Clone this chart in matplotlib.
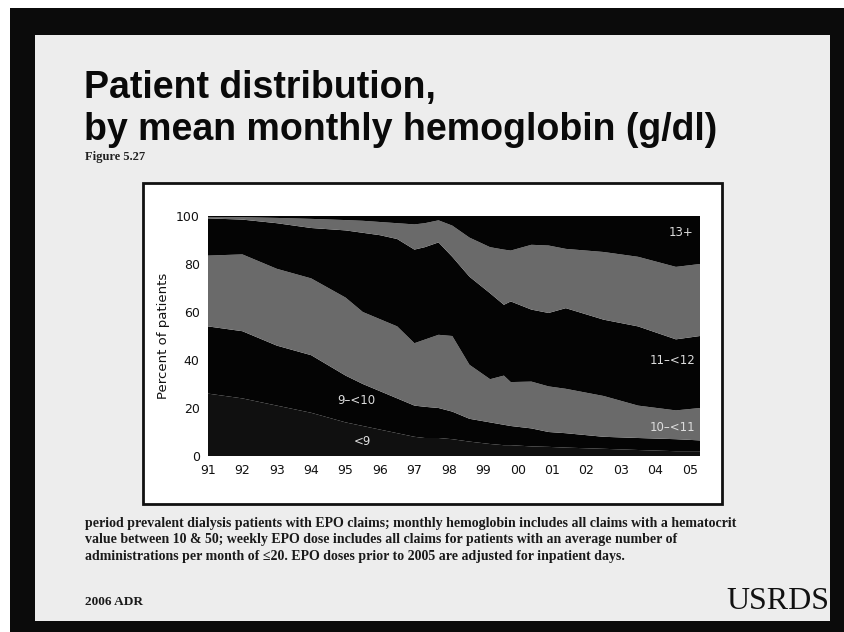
import matplotlib
matplotlib.use('Agg')
import matplotlib.pyplot as plt
from matplotlib.patches import Rectangle

# ── Data (percent of patients per hemoglobin band) ──
years = [1991.0, 1992.0, 1993.0, 1994.0, 1995.0, 1995.5, 1996.0, 1996.5, 1997.0,
         1997.3, 1997.7, 1998.1, 1998.6, 1999.2, 1999.6, 1999.8, 2000.4, 2000.9,
         2001.4, 2002.5, 2003.5, 2004.6, 2005.3]
hb_lt9 = [26, 24, 21, 18, 14, 12.5, 11, 9.5, 8, 7.5, 7.5, 7, 6, 5, 4.5, 4.5, 4,
          3.8, 3.5, 3, 2.5, 2, 2]
hb_9_10 = [28, 28, 25, 24, 19.5, 17.5, 16, 14.5, 13, 13, 12.5, 11.5, 9.5, 9, 8.5,
           8, 7.5, 6.2, 6, 5, 5, 5, 4.5]
hb_10_11 = [29.5, 32, 32, 32, 32.5, 30, 30, 30, 26, 28, 30.5, 31.5, 22.5, 18, 20.5,
            18.3, 19.5, 19, 18.5, 17, 13.5, 12, 13.5]
hb_11_12 = [15.5, 14.5, 19, 21, 28, 33, 35, 36.4, 39, 38.5, 38.5, 33, 36.7, 35.8,
            29.5, 33.6, 30, 30.6, 33.6, 31.8, 33, 29.6, 30]
hb_12_13 = [0.6, 1, 2.2, 3.8, 4.3, 5, 5.5, 6.6, 10.5, 10, 9.2, 13, 16.3, 19.2, 23,
            21.2, 27, 28.1, 24.7, 28.2, 29, 30.2, 30]
hb_13p = [0.4, 0.5, 0.8, 1.2, 1.7, 2, 2.5, 3, 3.5, 3, 1.8, 4, 9, 13, 14, 14.4, 12,
          12.3, 13.7, 15, 17, 21.2, 20]

tick_years = list(range(1991, 2006))
tick_labels = ['91', '92', '93', '94', '95', '96', '97', '98', '99', '00', '01',
               '02', '03', '04', '05']

band_labels = ['13+', '11\u2013<12', '10\u2013<11', '9\u2013<10', '<9']
band_label_x = [2004.75, 2004.5, 2004.5, 1995.3, 1995.5]
band_label_y = [93, 40, 12, 23, 6]

W, H = 844, 632
fig = plt.figure(figsize=(W / 100, H / 100), dpi=100)
fig.patch.set_facecolor('white')

# scanned slide frame
fig.patches.append(Rectangle((10 / W, 0), 1 - 10 / W, 1 - 8 / H,
                             transform=fig.transFigure, facecolor='#0b0b0b',
                             edgecolor='none', zorder=0))
fig.patches.append(Rectangle((35 / W, 11 / H), (830 - 35) / W, (621 - 35) / H,
                             transform=fig.transFigure, facecolor='#ededed',
                             edgecolor='none', zorder=0))
# white chart box
fig.patches.append(Rectangle((143 / W, (H - 504) / H), (722 - 143) / W, (504 - 183) / H,
                             transform=fig.transFigure, facecolor='white',
                             edgecolor='#111111', linewidth=2, zorder=1))

# titles
fig.text(84 / W, 1 - 98 / H, 'Patient distribution,', fontsize=27,
         fontweight='bold', family='Liberation Sans', va='baseline', color='#0a0a0a')
fig.text(84 / W, 1 - 140 / H, 'by mean monthly hemoglobin (g/dl)', fontsize=27,
         fontweight='bold', family='Liberation Sans', va='baseline', color='#0a0a0a')
fig.text(85 / W, 1 - 160 / H, 'Figure 5.27', fontsize=9, fontweight='bold',
         family='Liberation Serif', va='baseline', color='#222222')

# ── Chart ──
ax = fig.add_axes([208 / W, (H - 456) / H, (700 - 208) / W, (456 - 216) / H])
ax.set_zorder(2)
gray = '#6a6a6a'
ax.stackplot(years, hb_lt9, hb_9_10, hb_10_11, hb_11_12, hb_12_13, hb_13p,
             colors=['#101010', '#040404', gray, '#040404', gray, '#040404'],
             linewidth=0)
ax.set_xlim(1991, 2005.3)
ax.set_ylim(0, 100)
ax.set_xticks(tick_years)
ax.set_xticklabels(tick_labels)
ax.set_yticks([0, 20, 40, 60, 80, 100])
ax.tick_params(length=0, labelsize=9, pad=6, colors='#111111')
for s in ax.spines.values():
    s.set_visible(False)
ax.set_ylabel('Percent of patients', fontsize=9.5, color='#111111', labelpad=4)

for lab, lx, ly in zip(band_labels, band_label_x, band_label_y):
    ax.text(lx, ly, lab, fontsize=8.5, color='#dddddd', ha='center', va='center')

# footnote
notes = ['period prevalent dialysis patients with EPO claims; monthly hemoglobin includes all claims with a hematocrit',
         'value between 10 & 50; weekly EPO dose includes all claims for patients with an average number of',
         'administrations per month of \u226420. EPO doses prior to 2005 are adjusted for inpatient days.']
for i, line in enumerate(notes):
    fig.text(85 / W, 1 - (527 + 16.5 * i) / H, line, fontsize=10, fontweight='bold',
             family='Liberation Serif', va='baseline', color='#1a1a1a')

fig.text(85 / W, 1 - 605 / H, '2006 ADR', fontsize=9.5, fontweight='bold',
         family='Liberation Serif', va='baseline', color='#1a1a1a')
fig.text(829 / W, 1 - 609 / H, 'USRDS', fontsize=23, family='Liberation Serif',
         ha='right', va='baseline', color='#111111')

fig.savefig('out.png', dpi=100, facecolor='white')
